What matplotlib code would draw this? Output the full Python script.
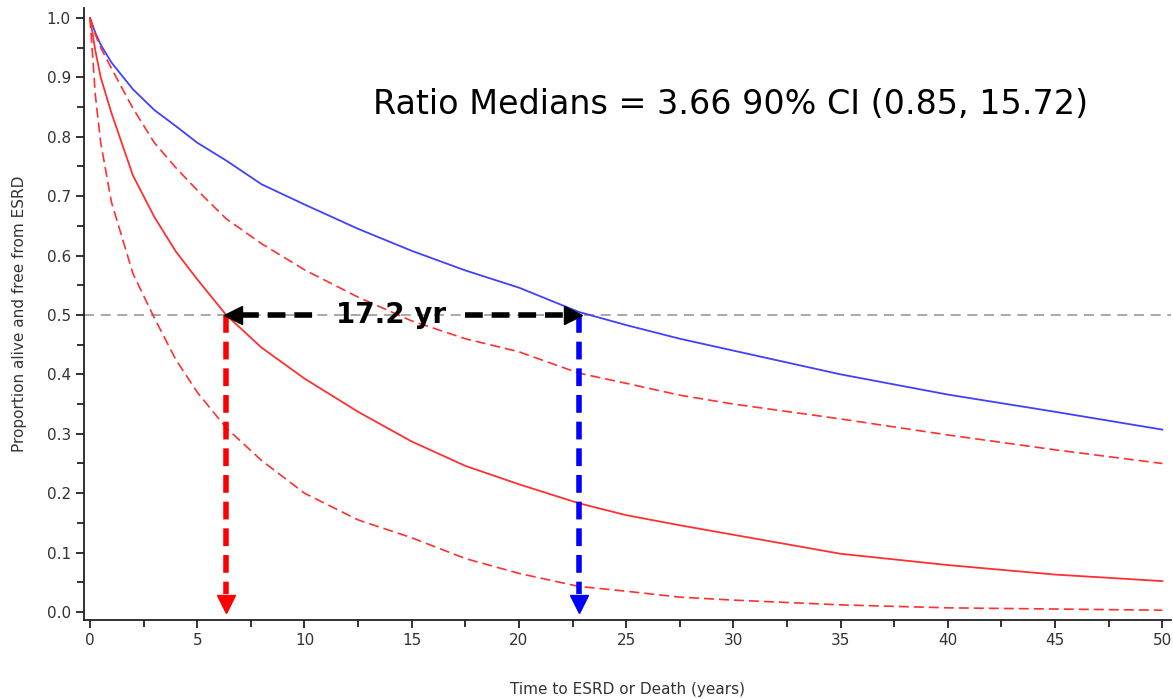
import numpy as np
import matplotlib.pyplot as plt
from matplotlib.ticker import MultipleLocator

# survival curves
t = [0, 0.25, 0.5, 1, 2, 3, 4, 5, 6.35, 8, 10, 12.5, 15, 17.5, 20, 22.8, 25, 27.5, 30, 35, 40, 45, 50]
blue = [1.0, 0.975, 0.955, 0.925, 0.88, 0.845, 0.818, 0.79, 0.76, 0.72, 0.686, 0.645, 0.608, 0.575, 0.546, 0.505, 0.483, 0.46, 0.44, 0.40, 0.366, 0.337, 0.307]
red_mid = [1.0, 0.945, 0.90, 0.84, 0.735, 0.665, 0.607, 0.56, 0.5, 0.445, 0.393, 0.337, 0.287, 0.246, 0.215, 0.183, 0.163, 0.146, 0.13, 0.098, 0.079, 0.063, 0.052]
red_hi = [1.0, 0.972, 0.95, 0.915, 0.848, 0.79, 0.748, 0.71, 0.662, 0.62, 0.576, 0.53, 0.49, 0.46, 0.438, 0.402, 0.385, 0.365, 0.35, 0.325, 0.298, 0.273, 0.25]
red_lo = [1.0, 0.87, 0.79, 0.69, 0.57, 0.495, 0.425, 0.37, 0.31, 0.255, 0.2, 0.155, 0.125, 0.09, 0.065, 0.043, 0.035, 0.025, 0.02, 0.012, 0.007, 0.005, 0.003]

median_red = 6.35
median_blue = 22.8
ratio_text = "Ratio Medians = 3.66 90% CI (0.85, 15.72)"
diff_text = "17.2 yr"

fig = plt.figure(figsize=(11.73, 6.99), dpi=100)
ax = fig.add_axes([0.0716, 0.113, 0.927, 0.8756])

ax.axhline(0.5, color='#999999', lw=1.2, ls=(0, (6, 4)), zorder=1)
ax.plot(t, blue, color='#4040ff', lw=1.3, zorder=3)
ax.plot(t, red_mid, color='#ff3030', lw=1.3, zorder=3)
ax.plot(t, red_hi, color='#ff3030', lw=1.2, ls=(0, (6, 3)), zorder=3)
ax.plot(t, red_lo, color='#ff3030', lw=1.2, ls=(0, (6, 3)), zorder=3)

# vertical median arrows
for xm, c in [(median_red, '#ff0000'), (median_blue, '#0000ff')]:
    ax.plot([xm, xm], [0.5, 0.03], color=c, lw=4, ls=(0, (3.2, 1.6)), zorder=4)
    ax.plot([xm], [0.013], marker='v', color=c, markersize=13, zorder=5, clip_on=False)

# horizontal difference arrow
mid = (median_red + median_blue) / 2
ax.plot([median_red + 0.7, 10.4], [0.5, 0.5], color='black', lw=4, ls=(0, (3.2, 1.6)), zorder=4)
ax.plot([median_red + 0.3], [0.5], marker='<', color='black', markersize=13, zorder=5)
ax.plot([17.5, median_blue - 0.7], [0.5, 0.5], color='black', lw=4, ls=(0, (3.2, 1.6)), zorder=4)
ax.plot([median_blue - 0.3], [0.5], marker='>', color='black', markersize=13, zorder=5)
ax.text(mid - 0.55, 0.5, diff_text, fontsize=20, fontweight='bold', ha='center', va='center', zorder=6)

ax.text(0.623, 0.85, ratio_text, transform=fig.transFigure, fontsize=24, ha='center', va='center',
        color='black')

ax.set_xlim(-0.28, 50.42)
ax.set_ylim(-0.0135, 1.0168)
ax.xaxis.set_major_locator(MultipleLocator(5))
ax.xaxis.set_minor_locator(MultipleLocator(2.5))
ax.yaxis.set_minor_locator(MultipleLocator(0.05))
ax.set_yticks(np.arange(0, 1.01, 0.1))
ax.set_yticklabels([f"{v:.1f}" for v in np.arange(0, 1.01, 0.1)])
ax.tick_params(which='major', length=6, width=1.3, colors='#222222', labelsize=11, labelcolor='#333333')
ax.tick_params(which='minor', length=5, width=1.3, colors='#222222')
for s in ['top', 'right']:
    ax.spines[s].set_visible(False)
for s in ['left', 'bottom']:
    ax.spines[s].set_linewidth(1.3)
    ax.spines[s].set_color('#222222')

ax.set_xlabel("Time to ESRD or Death (years)", fontsize=11, color='#333333', labelpad=24)
ax.set_ylabel("Proportion alive and free from ESRD", fontsize=11, color='#333333', labelpad=14)

fig.savefig("out.png", dpi=100)
